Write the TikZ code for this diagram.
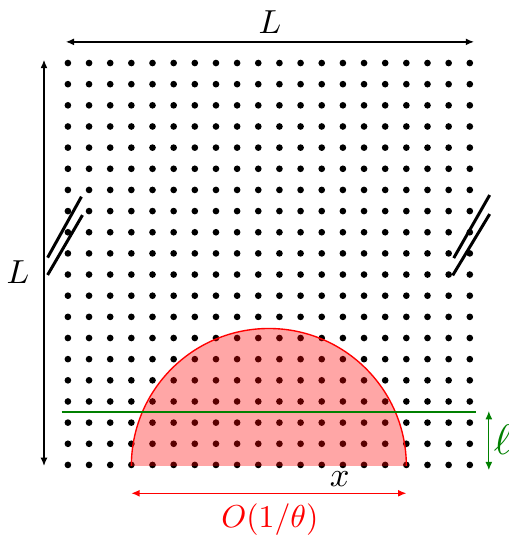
\documentclass[tikz,border=0pt]{standalone}
\usepackage{tikz}
\usetikzlibrary{arrows.meta, positioning, calc}

\begin{document}
\begin{tikzpicture}[
  x=0.3237cm, y=0.3237cm,
  site/.style={circle, fill=black, inner sep=0pt, minimum size=2.9pt},
  dim/.style={{Latex[length=3.6pt,width=3pt]}-{Latex[length=3.6pt,width=3pt]}, line width=0.55pt},
  cut/.style={line width=1.3pt},
  lbl/.style={inner sep=1pt}
]
  \useasboundingbox (-3.21,-3.36) rectangle (20.84,21.98);
  % Lattice sites
  \foreach \i in {0,...,19}
    \foreach \j in {0,...,19}
      \node[site] (s-\i-\j) at (\i,\j) {};
  % Half disc
  \fill[red, opacity=0.35] (3,-0.05) arc (180:0:6.5) -- cycle;
  \draw[red, line width=0.6pt] (3,-0.05) arc (180:0:6.5);
  % Strip of width ell
  \coordinate (gl) at (-0.3,2.5);
  \coordinate (gr) at (19.3,2.5);
  \draw[green!50!black, line width=1.1pt] (gl) -- (gr);
  % Dimension ends
  \coordinate (tl) at (-0.1,20);
  \coordinate (tr) at (19.2,20);
  \coordinate (lb) at (-1.13,-0.05);
  \coordinate (lt) at (-1.13,19.15);
  \coordinate (rl) at (3,-1.34);
  \coordinate (rr) at (16,-1.34);
  \coordinate (et) at (19.9,2.55);
  \coordinate (eb) at (19.9,-0.25);
  % Arrows
  \draw[dim] (tl) -- (tr);
  \draw[dim] (lb) -- (lt);
  \draw[dim, red] (rl) -- (rr);
  \draw[dim, green!50!black] (et) -- (eb);
  % Labels
  \node[lbl, scale=1.45] (Ltop) at (9.55,20.94) {$L$};
  \node[lbl, scale=1.45] (Lleft) at (-2.36,9.12) {$L$};
  \node[lbl, scale=1.5] (xlab) at (12.85,-0.66) {$x$};
  \node[lbl, red, scale=1.38] (olab) at (9.55,-2.6) {$O(1/\theta)$};
  \node[lbl, green!50!black, scale=1.85] (ell) at (20.56,1.18) {$\ell$};
  % Break marks
  \draw[cut] (0.64,12.68) -- (-0.96,9.8);
  \draw[cut] (0.69,11.81) -- (-0.96,8.98);
  \draw[cut] (19.94,12.76) -- (18.24,9.78);
  \draw[cut] (19.94,11.86) -- (18.19,8.96);
\end{tikzpicture}
\end{document}
